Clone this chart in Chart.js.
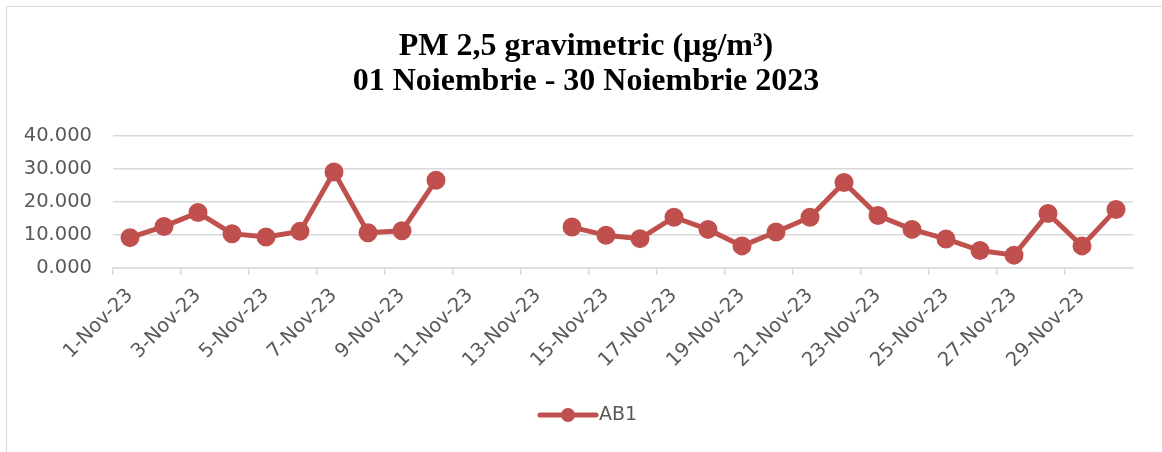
<!DOCTYPE html>
<html>
<head>
<meta charset="utf-8">
<script src="https://cdn.jsdelivr.net/npm/chart.js@4/dist/chart.umd.min.js"></script>
<style>
  html, body { margin:0; padding:0; background:#fff; overflow:hidden; }
  #frame { position:absolute; left:6px; top:6px; width:1170px; height:460px; border:1.5px solid #d9d9d9; box-sizing:border-box; }
  #wrap { position:absolute; left:0; top:0; width:1162px; height:452px; }
</style>
</head>
<body>
<div id="frame"></div>
<div id="wrap"><canvas id="chart" width="1162" height="452"></canvas></div>
<script>
const days = ['1-Nov-23','2-Nov-23','3-Nov-23','4-Nov-23','5-Nov-23','6-Nov-23','7-Nov-23','8-Nov-23','9-Nov-23','10-Nov-23',
  '11-Nov-23','12-Nov-23','13-Nov-23','14-Nov-23','15-Nov-23','16-Nov-23','17-Nov-23','18-Nov-23','19-Nov-23','20-Nov-23',
  '21-Nov-23','22-Nov-23','23-Nov-23','24-Nov-23','25-Nov-23','26-Nov-23','27-Nov-23','28-Nov-23','29-Nov-23','30-Nov-23'];
const ab1 = [9.2, 12.6, 16.8, 10.4, 9.4, 11.1, 29.1, 10.7, 11.3, 26.6,
  null, null, null, 12.4, 9.9, 8.9, 15.4, 11.7, 6.7, 10.9,
  15.4, 25.9, 15.9, 11.7, 8.8, 5.3, 3.9, 16.5, 6.7, 17.7];
const yTicks = [0, 10, 20, 30, 40];
const titleLines = ['PM 2,5 gravimetric (µg/m³)', '01 Noiembrie - 30 Noiembrie 2023'];

const RED = '#C0504D';
const GRID = '#d9d9d9';
const TXT = '#595959';

// title and legend drawn by hand (title sits a bit right of the canvas centre)
const extras = {
  id: 'extras',
  afterDraw(chart){
    const c = chart.ctx;
    c.save();
    c.fillStyle = '#000';
    c.font = 'bold 32px "Liberation Serif"';
    c.textAlign = 'center'; c.textBaseline = 'middle';
    titleLines.forEach((t, i) => c.fillText(t, 586, 47 + i * 35));

    const y = 415, x0 = 540, x1 = 596;
    c.strokeStyle = RED; c.lineWidth = 5; c.lineCap = 'round';
    c.beginPath(); c.moveTo(x0, y); c.lineTo(x1, y); c.stroke();
    c.fillStyle = RED;
    c.beginPath(); c.arc((x0+x1)/2, y, 7, 0, Math.PI*2); c.fill();
    c.fillStyle = TXT; c.font = '19px "DejaVu Sans"'; c.textAlign = 'left';
    c.fillText('AB1', 599, y);
    c.restore();
  }
};

new Chart(document.getElementById('chart'), {
  type: 'line',
  data: {
    labels: days,
    datasets: [{
      label: 'AB1',
      data: ab1,
      borderColor: RED,
      backgroundColor: RED,
      borderWidth: 5,
      pointRadius: 7,
      pointHoverRadius: 7,
      pointBackgroundColor: RED,
      pointBorderColor: RED,
      spanGaps: false,
      tension: 0
    }]
  },
  options: {
    responsive: false,
    animation: false,
    layout: { padding: { left: 10, right: 29, top: 136, bottom: 0 } },
    plugins: {
      legend: { display: false },
      tooltip: { enabled: false },
      title: { display: false }
    },
    scales: {
      x: {
        offset: true,
        afterFit(s){ s.height = 184; },
        grid: {
          offset: true,
          drawOnChartArea: false,
          drawTicks: true,
          tickLength: 7,
          lineWidth: 1.5,
          color: (ctx) => (ctx.index % 2 === 0 ? GRID : 'rgba(0,0,0,0)')
        },
        border: { display: true, color: GRID, width: 1.5 },
        ticks: {
          autoSkip: false,
          maxRotation: 45,
          minRotation: 45,
          color: TXT,
          padding: 9,
          font: { family: '"DejaVu Sans"', size: 19.5 },
          callback: function(v, i){ return i % 2 === 0 ? this.getLabelForValue(v) : ''; }
        }
      },
      y: {
        min: 0,
        max: 40,
        afterFit(s){ s.width = 103; },
        afterBuildTicks(s){ s.ticks = yTicks.map(v => ({ value: v })); },
        grid: { color: GRID, lineWidth: 1.5, drawTicks: false },
        border: { display: false },
        ticks: {
          color: TXT,
          padding: 21,
          font: { family: '"DejaVu Sans"', size: 19.5 },
          callback: (v) => Number(v).toFixed(3)
        }
      }
    }
  },
  plugins: [extras]
});
</script>
</body>
</html>
